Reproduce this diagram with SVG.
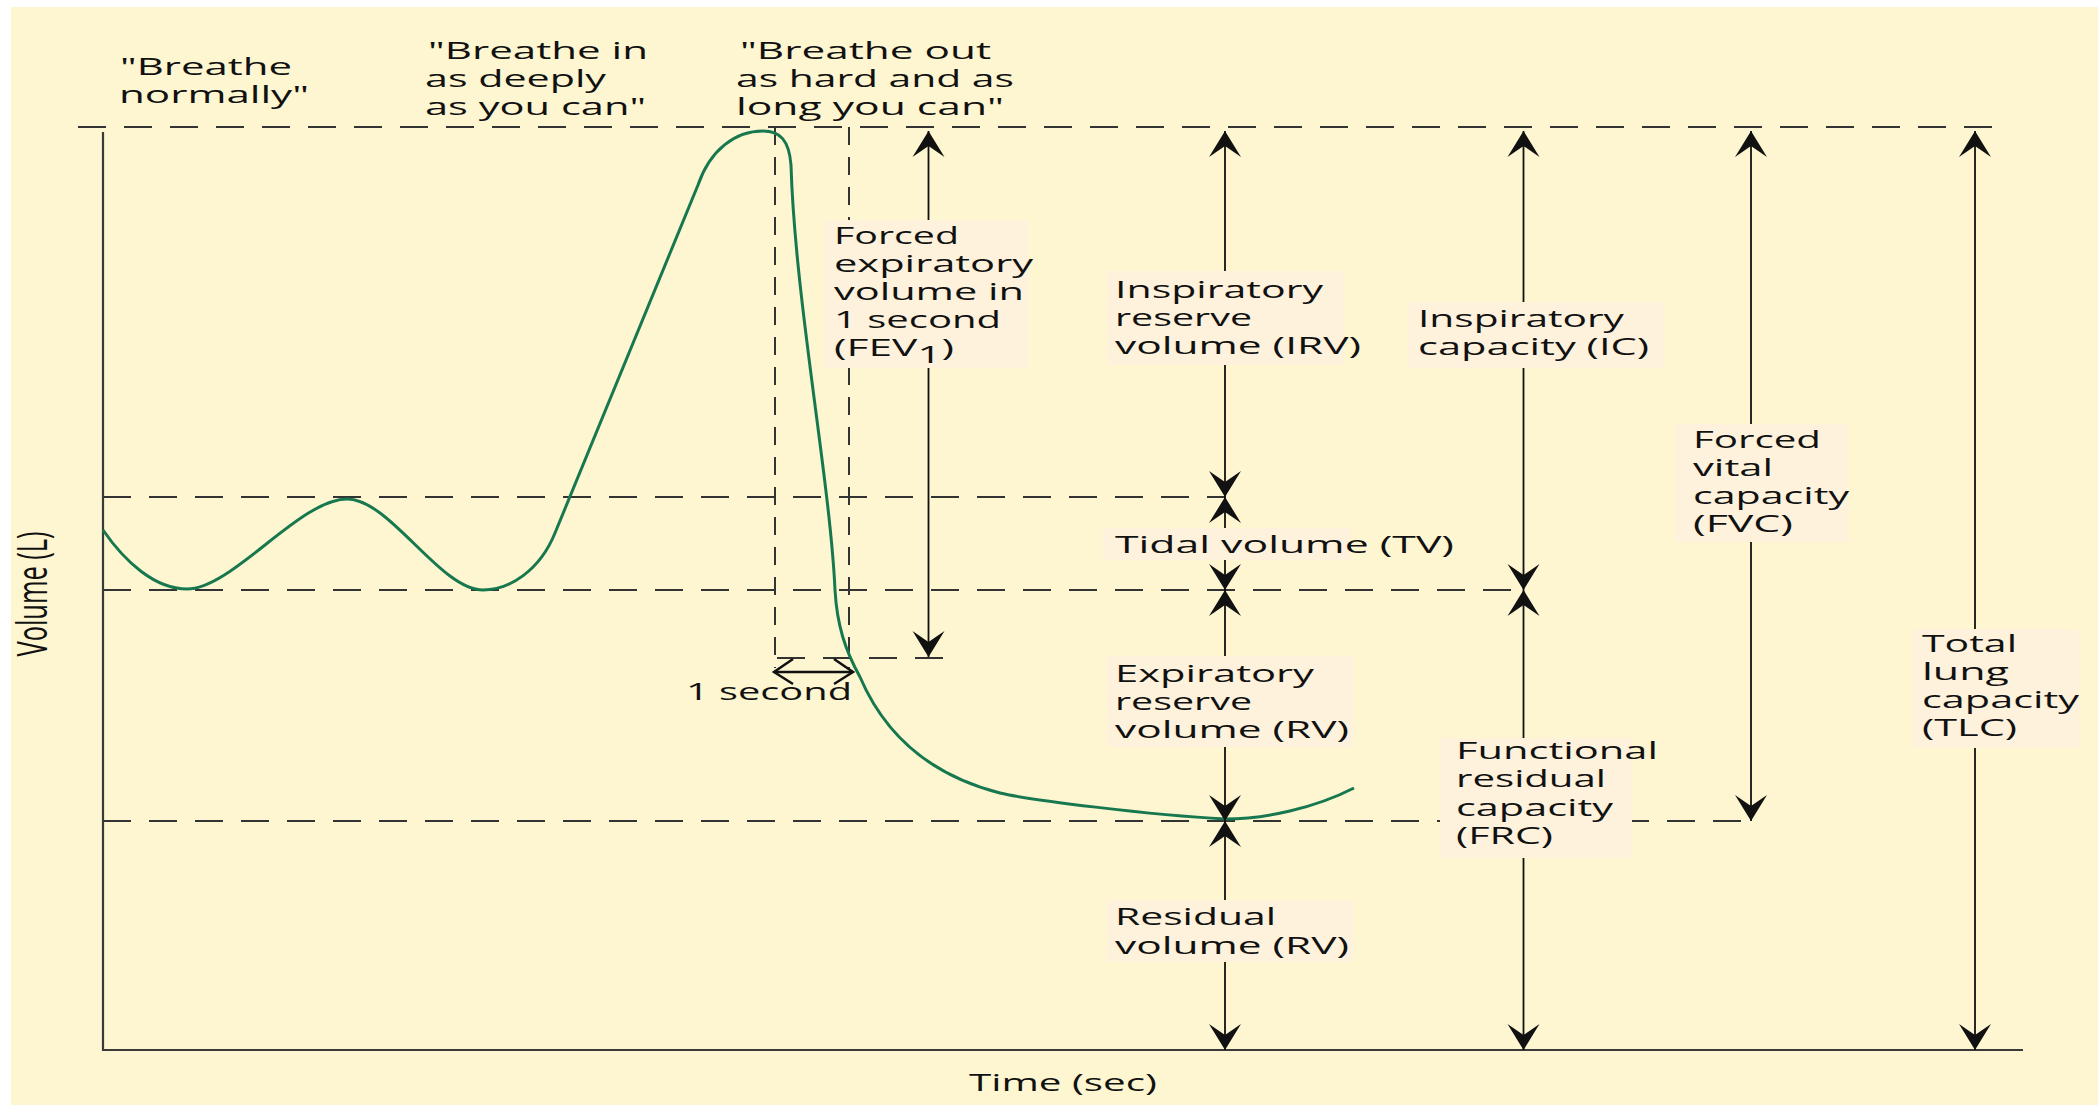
<svg xmlns="http://www.w3.org/2000/svg" width="2098" height="1105" viewBox="0 0 2098 1105">
<style>
.t{font-family:"Open Sans","Noto Sans","DejaVu Sans",sans-serif;font-size:23.5px;fill:#111}
.box{fill:#FEF2DC}
.dh{stroke:#333;stroke-width:2;stroke-dasharray:28 18;fill:none}
.dv{stroke:#333;stroke-width:2;stroke-dasharray:18 12;fill:none}
.ax{stroke:#3a3a3a;stroke-width:2.2;fill:none}
.arr{stroke:#111;stroke-width:1.8;fill:none;marker-start:url(#ah);marker-end:url(#ah)}
.curve{fill:none;stroke:#17784f;stroke-width:3;stroke-linejoin:round}
.chev{fill:none;stroke:#111;stroke-width:2.5}
</style>
<defs>
<marker id="ah" viewBox="-27 -17 28 34" refX="0" refY="0" markerWidth="28" markerHeight="34" markerUnits="userSpaceOnUse" orient="auto-start-reverse">
<path d="M0,0 L-26,-16 L-15,0 L-26,16 Z" fill="#111"/>
</marker>
</defs>
<rect x="0" y="0" width="2098" height="1105" fill="#ffffff"/>
<rect x="11" y="7" width="2087" height="1098" fill="#FDF6D0"/>

<g id="axes">
<path class="ax" d="M103,132 V1050 H2023"/>
<text class="t" transform="translate(47,594) scale(1.75,1) rotate(-90)" text-anchor="middle" textLength="125" lengthAdjust="spacingAndGlyphs">Volume (L)</text>
<text class="t" x="969" y="1091" textLength="188" lengthAdjust="spacingAndGlyphs">Time (sec)</text>
</g>

<g id="guides">
<line class="dh" x1="78" y1="127" x2="1999" y2="127"/>
<line class="dh" x1="103" y1="497" x2="1225" y2="497"/>
<line class="dh" x1="103" y1="590" x2="1523" y2="590"/>
<line class="dh" x1="103" y1="821" x2="1751" y2="821"/>
<line class="dh" x1="777" y1="658" x2="945" y2="658"/>
<line class="dv" x1="775" y1="127" x2="775" y2="668"/>
<line class="dv" x1="849" y1="127" x2="849" y2="668"/>
</g>

<g id="spirogram">
<path class="curve" d="M103,530 C125,562 155,589 187,589 C232,589 300,499 347,499 C390,499 440,590 483,590 C510,590 540,570 555,533 L698,185 C710,150 735,131 763,131 C780,131 789,140 791,165 C795,300 830,480 835,590 C837,625 845,650 860,677 C875,712 910,770 1000,793 C1030,800 1150,815 1225,819 C1265,819 1315,808 1354,788"/>
</g>

<g id="connectors">
<line class="arr" x1="928.5" y1="131" x2="928.5" y2="657"/>
<line class="arr" x1="1225" y1="131" x2="1225" y2="497"/>
<line class="arr" x1="1225" y1="497" x2="1225" y2="590"/>
<line class="arr" x1="1225" y1="590" x2="1225" y2="821"/>
<line class="arr" x1="1225" y1="821" x2="1225" y2="1050"/>
<line class="arr" x1="1523.5" y1="131" x2="1523.5" y2="590"/>
<line class="arr" x1="1523.5" y1="590" x2="1523.5" y2="1050"/>
<line class="arr" x1="1751" y1="131" x2="1751" y2="821"/>
<line class="arr" x1="1975" y1="131" x2="1975" y2="1050"/>
<g id="one-second-arrow">
<line x1="774" y1="672" x2="853" y2="672" stroke="#111" stroke-width="2.5"/>
<polyline class="chev" points="793,659 774,672 793,684"/>
<polyline class="chev" points="834,659 853,672 834,684"/>
</g>
</g>

<g id="instr-normal">
<text class="t" x="120" y="75" textLength="172" lengthAdjust="spacingAndGlyphs">"Breathe</text>
<text class="t" x="119" y="103" textLength="190" lengthAdjust="spacingAndGlyphs">normally"</text>
</g>
<g id="instr-in">
<text class="t" x="428" y="59" textLength="220" lengthAdjust="spacingAndGlyphs">"Breathe in</text>
<text class="t" x="425" y="87" textLength="181" lengthAdjust="spacingAndGlyphs">as deeply</text>
<text class="t" x="425" y="115" textLength="221" lengthAdjust="spacingAndGlyphs">as you can"</text>
</g>
<g id="instr-out">
<text class="t" x="740" y="59" textLength="251" lengthAdjust="spacingAndGlyphs">"Breathe out</text>
<text class="t" x="736" y="87" textLength="278" lengthAdjust="spacingAndGlyphs">as hard and as</text>
<text class="t" x="736" y="115" textLength="268" lengthAdjust="spacingAndGlyphs">long you can"</text>
</g>

<g id="fev1">
<rect class="box" x="825" y="220" width="203" height="148"/>
<text class="t" x="834" y="244" textLength="125" lengthAdjust="spacingAndGlyphs">Forced</text>
<text class="t" x="834" y="272" textLength="199" lengthAdjust="spacingAndGlyphs">expiratory</text>
<text class="t" x="834" y="300" textLength="190" lengthAdjust="spacingAndGlyphs">volume in</text>
<text class="t" x="834" y="328" textLength="167" lengthAdjust="spacingAndGlyphs">1 second</text>
<text class="t" x="834" y="356" textLength="120" lengthAdjust="spacingAndGlyphs">(FEV<tspan dy="7">1</tspan><tspan dy="-7">)</tspan></text>
</g>

<g id="one-second">
<text class="t" x="686" y="700" textLength="166" lengthAdjust="spacingAndGlyphs">1 second</text>
</g>

<g id="irv">
<rect class="box" x="1107" y="271" width="237" height="94"/>
<text class="t" x="1115" y="298" textLength="208" lengthAdjust="spacingAndGlyphs">Inspiratory</text>
<text class="t" x="1115" y="326" textLength="137" lengthAdjust="spacingAndGlyphs">reserve</text>
<text class="t" x="1115" y="354" textLength="246" lengthAdjust="spacingAndGlyphs">volume (IRV)</text>
</g>

<g id="ic">
<rect class="box" x="1408" y="302" width="255" height="66"/>
<text class="t" x="1418" y="327" textLength="206" lengthAdjust="spacingAndGlyphs">Inspiratory</text>
<text class="t" x="1418" y="355" textLength="231" lengthAdjust="spacingAndGlyphs">capacity (IC)</text>
</g>

<g id="fvc">
<rect class="box" x="1675" y="424" width="173" height="118"/>
<text class="t" x="1693" y="448" textLength="128" lengthAdjust="spacingAndGlyphs">Forced</text>
<text class="t" x="1693" y="476" textLength="80" lengthAdjust="spacingAndGlyphs">vital</text>
<text class="t" x="1693" y="504" textLength="156" lengthAdjust="spacingAndGlyphs">capacity</text>
<text class="t" x="1693" y="532" textLength="100" lengthAdjust="spacingAndGlyphs">(FVC)</text>
</g>

<g id="tv">
<rect class="box" x="1103" y="528" width="247" height="32"/>
<text class="t" x="1115" y="553" textLength="339" lengthAdjust="spacingAndGlyphs">Tidal volume (TV)</text>
</g>

<g id="erv">
<rect class="box" x="1107" y="656" width="247" height="91"/>
<text class="t" x="1115" y="682" textLength="199" lengthAdjust="spacingAndGlyphs">Expiratory</text>
<text class="t" x="1115" y="710" textLength="137" lengthAdjust="spacingAndGlyphs">reserve</text>
<text class="t" x="1115" y="738" textLength="234" lengthAdjust="spacingAndGlyphs">volume (RV)</text>
</g>

<g id="rv">
<rect class="box" x="1107" y="900" width="247" height="62"/>
<text class="t" x="1115" y="925" textLength="161" lengthAdjust="spacingAndGlyphs">Residual</text>
<text class="t" x="1115" y="954" textLength="234" lengthAdjust="spacingAndGlyphs">volume (RV)</text>
</g>

<g id="frc">
<rect class="box" x="1440" y="738" width="192" height="120"/>
<text class="t" x="1456" y="759" textLength="202" lengthAdjust="spacingAndGlyphs">Functional</text>
<text class="t" x="1456" y="787" textLength="150" lengthAdjust="spacingAndGlyphs">residual</text>
<text class="t" x="1456" y="816" textLength="157" lengthAdjust="spacingAndGlyphs">capacity</text>
<text class="t" x="1456" y="844" textLength="97" lengthAdjust="spacingAndGlyphs">(FRC)</text>
</g>

<g id="tlc">
<rect class="box" x="1912" y="629" width="167" height="119"/>
<text class="t" x="1922" y="652" textLength="95" lengthAdjust="spacingAndGlyphs">Total</text>
<text class="t" x="1922" y="680" textLength="87" lengthAdjust="spacingAndGlyphs">lung</text>
<text class="t" x="1922" y="708" textLength="157" lengthAdjust="spacingAndGlyphs">capacity</text>
<text class="t" x="1922" y="736" textLength="95" lengthAdjust="spacingAndGlyphs">(TLC)</text>
</g>
</svg>
